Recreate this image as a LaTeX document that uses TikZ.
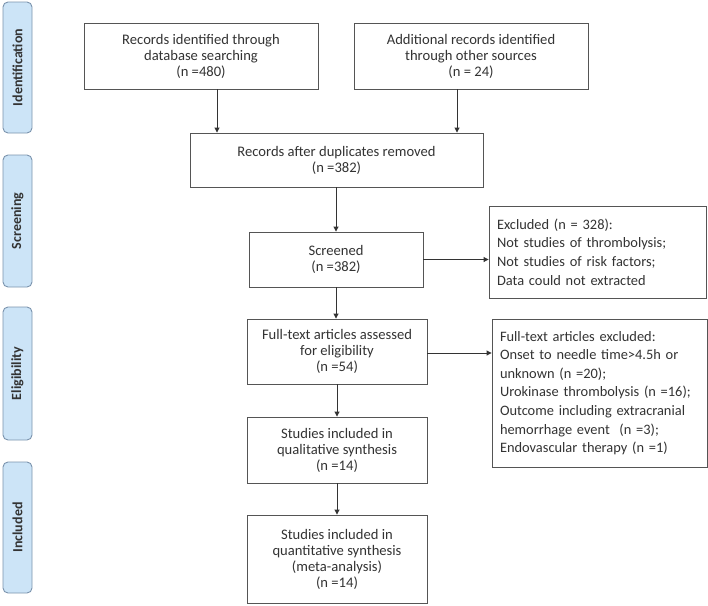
\documentclass[tikz,border=0pt]{standalone}
\usepackage{fontspec}
\setmainfont{Carlito}
\usetikzlibrary{arrows.meta}
\definecolor{sidefill}{HTML}{CCE4F7}
\definecolor{sidedraw}{HTML}{7A93AD}
\definecolor{boxdraw}{HTML}{555555}
\definecolor{txt}{HTML}{333333}
\begin{document}
\begin{tikzpicture}[x=1pt,y=-1pt,
  box/.style={draw=boxdraw,line width=0.9pt,fill=white,align=center,inner sep=2pt,
    font=\fontsize{14.6}{16}\selectfont,text=txt},
  lbox/.style={draw=boxdraw,line width=0.9pt,fill=white,align=left,anchor=center,
    font=\fontsize{14.4}{18.6}\selectfont,text=txt,inner xsep=8pt,text width=#1},
  side/.style={draw=sidedraw,fill=sidefill,line width=0.9pt,rounded corners=5pt,
    minimum width=29pt,inner sep=0pt,text=txt,font=\bfseries\fontsize{14}{15}\selectfont},
  arr/.style={draw=black!80,line width=0.9pt,-{Triangle[length=5pt,width=5pt]}}]
\useasboundingbox (0,0) rectangle (708,605);
% side labels
\node[side,minimum height=131pt] (s1) at (17.5,67.5) {\rotatebox{90}{Identification}};
\node[side,minimum height=132pt] (s2) at (17.5,221) {\rotatebox{90}{Screening}};
\node[side,minimum height=133pt] (s3) at (17.5,373.5) {\rotatebox{90}{Eligibility}};
\node[side,minimum height=131pt] (s4) at (17.5,527.5) {\rotatebox{90}{Included}};
% boxes
\node[box,minimum width=234pt,minimum height=66pt] (b1) at (201,56)
  {Records identified through\\database searching\\(n =480)};
\node[box,minimum width=234pt,minimum height=66pt] (b2) at (471,56)
  {Additional records identified\\through other sources\\(n = 24)};
\node[box,minimum width=293pt,minimum height=54pt] (b3) at (336.5,160)
  {Records after duplicates removed\\(n =382)};
\node[box,minimum width=174pt,minimum height=55pt] (b4) at (336,259.5)
  {Screened\\(n =382)};
\node[lbox=201pt,minimum height=92pt] (e1) at (597.5,252)
  {Excluded (n = 328):\\Not studies of thrombolysis;\\Not studies of risk factors;\\Data could not extracted};
\node[lbox=199pt,minimum height=148pt] (e2) at (599.5,393)
  {Full-text articles excluded:\\Onset to needle time>4.5h or\\unknown (n =20);\\Urokinase thrombolysis (n =16);\\Outcome including extracranial\\hemorrhage event\ \ (n =3);\\Endovascular therapy (n =1)};
\node[box,minimum width=180pt,minimum height=65pt] (b5) at (337,351.5)
  {Full-text articles assessed\\for eligibility\\(n =54)};
\node[box,minimum width=180pt,minimum height=66pt] (b6) at (337,450)
  {Studies included in\\qualitative synthesis\\(n =14)};
\node[box,minimum width=180pt,minimum height=88pt] (b7) at (337,559)
  {Studies included in\\quantitative synthesis\\(meta-analysis)\\(n =14)};
% arrows
\draw[arr] ([xshift=16pt]b1.south) -- ([xshift=16pt]b1.south |- b3.north);
\draw[arr] ([xshift=-14pt]b2.south) -- ([xshift=-14pt]b2.south |- b3.north);
\draw[arr] (b3.south -| b4.north) -- (b4.north);
\draw[arr] (b4.south) -- (b4.south |- b5.north);
\draw[arr] (b4.east) -- (b4.east -| e1.west);
\draw[arr] ([yshift=-1.5pt]b5.east) -- ([yshift=-1.5pt]b5.east -| e2.west);
\draw[arr] (b5.south) -- (b6.north);
\draw[arr] (b6.south) -- (b7.north);
\end{tikzpicture}
\end{document}
